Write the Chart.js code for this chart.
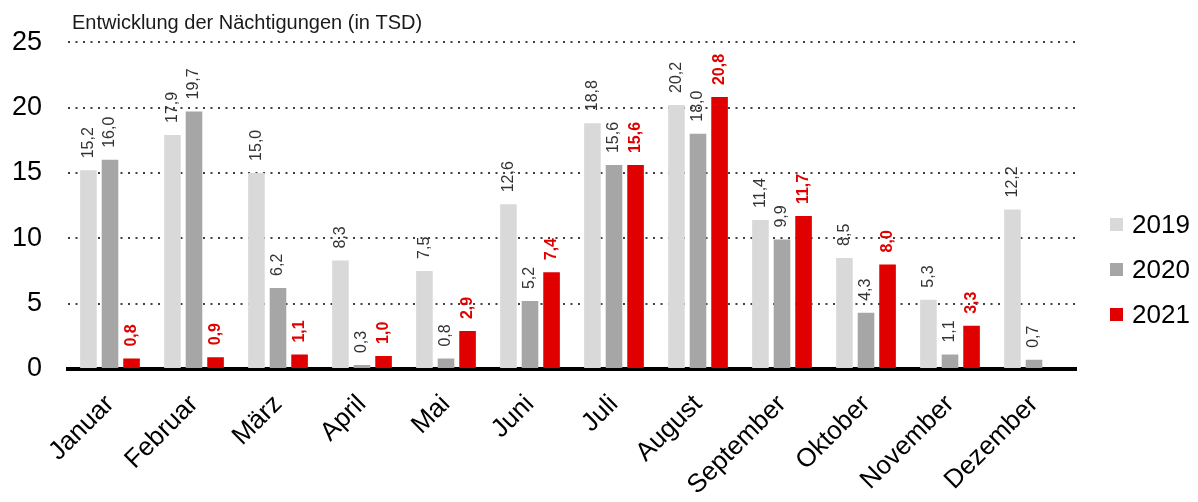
<!DOCTYPE html>
<html><head><meta charset="utf-8">
<script src="https://cdn.jsdelivr.net/npm/chart.js@4/dist/chart.umd.min.js"></script>
<style>html,body{margin:0;padding:0;background:#fff;} #wrap{width:1198px;height:502px;position:relative;}</style>
</head><body><div id="wrap"><canvas id="c"></canvas></div>
<script>
const chartTitle = 'Entwicklung der Nächtigungen (in TSD)';
const categories = ['Januar','Februar','März','April','Mai','Juni','Juli','August','September','Oktober','November','Dezember'];
const seriesLabels = ['2019','2020','2021'];
const values2019 = [15.2, 17.9, 15.0, 8.3, 7.5, 12.6, 18.8, 20.2, 11.4, 8.5, 5.3, 12.2];
const values2020 = [16.0, 19.7, 6.2, 0.3, 0.8, 5.2, 15.6, 18.0, 9.9, 4.3, 1.1, 0.7];
const values2021 = [0.8, 0.9, 1.1, 1.0, 2.9, 7.4, 15.6, 20.8, 11.7, 8.0, 3.3, null];
const yTickValues = [0, 5, 10, 15, 20, 25];

const FONT = '"Liberation Sans", Arial, Helvetica, sans-serif';
const colors = ['#d9d9d9', '#a6a6a6', '#e00000'];
const labelColors = ['#333333', '#333333', '#e00000'];
const labelBold = [false, false, true];

const fmt = v => v.toFixed(1).replace('.', ',');

const valueLabelPlugin = {
  id: 'valueLabels',
  afterDatasetsDraw(chart) {
    const ctx = chart.ctx;
    chart.data.datasets.forEach((ds, di) => {
      const meta = chart.getDatasetMeta(di);
      meta.data.forEach((bar, i) => {
        const v = ds.data[i];
        if (v === null || v === undefined) return;
        ctx.save();
        ctx.translate(bar.x, bar.y - 12);
        ctx.rotate(-Math.PI / 2);
        ctx.font = (labelBold[di] ? 'bold ' : '') + '16px ' + FONT;
        ctx.fillStyle = labelColors[di];
        ctx.textAlign = 'left';
        ctx.textBaseline = 'middle';
        ctx.fillText(fmt(v), 0, 0);
        ctx.restore();
      });
    });
  }
};

const titleLegendPlugin = {
  id: 'titleLegend',
  afterDraw(chart) {
    const ctx = chart.ctx;
    const ca = chart.chartArea;
    ctx.save();
    ctx.font = '20px ' + FONT;
    ctx.fillStyle = '#1a1a1a';
    ctx.textAlign = 'left';
    ctx.textBaseline = 'alphabetic';
    ctx.fillText(chartTitle, ca.left + 4, 29);
    // legend
    ctx.textBaseline = 'middle';
    chart.data.datasets.forEach((ds, di) => {
      const cy = 225 + di * 45;
      const x = ca.right + 34;
      ctx.fillStyle = ds.backgroundColor;
      ctx.fillRect(x, cy - 7, 13, 13);
      ctx.fillStyle = '#000';
      ctx.font = '26px ' + FONT;
      ctx.fillText(ds.label, x + 22, cy + 1);
    });
    ctx.restore();
  }
};

const seriesValues = [values2019, values2020, values2021];

new Chart(document.getElementById('c'), {
  type: 'bar',
  data: {
    labels: categories,
    datasets: seriesLabels.map((l, i) => ({
      label: l,
      data: seriesValues[i],
      backgroundColor: colors[i],
      borderWidth: 0,
      categoryPercentage: 0.77,
      barPercentage: 0.77
    }))
  },
  options: {
    responsive: true,
    maintainAspectRatio: false,
    animation: false,
    layout: { padding: { top: 42, right: 122, left: 0, bottom: 0 } },
    plugins: {
      legend: { display: false },
      title: { display: false },
      tooltip: { enabled: false }
    },
    scales: {
      x: {
        grid: { display: false },
        border: { display: true, color: '#000', width: 4 },
        ticks: {
          color: '#000',
          font: { size: 26, family: FONT },
          maxRotation: 45, minRotation: 45,
          padding: 12
        },
        afterFit(s) { s.height = 133; }
      },
      y: {
        min: 0, max: 25,
        afterBuildTicks(s) { s.ticks = yTickValues.map(v => ({ value: v })); },
        grid: { color: '#404040', lineWidth: 2, drawTicks: false },
        border: { display: false, dash: [2, 5.5] },
        ticks: {
          color: '#000',
          font: { size: 27, family: FONT },
          padding: 26
        },
        afterFit(s) { s.width = 68; }
      }
    }
  },
  plugins: [valueLabelPlugin, titleLegendPlugin]
});
</script></body></html>
